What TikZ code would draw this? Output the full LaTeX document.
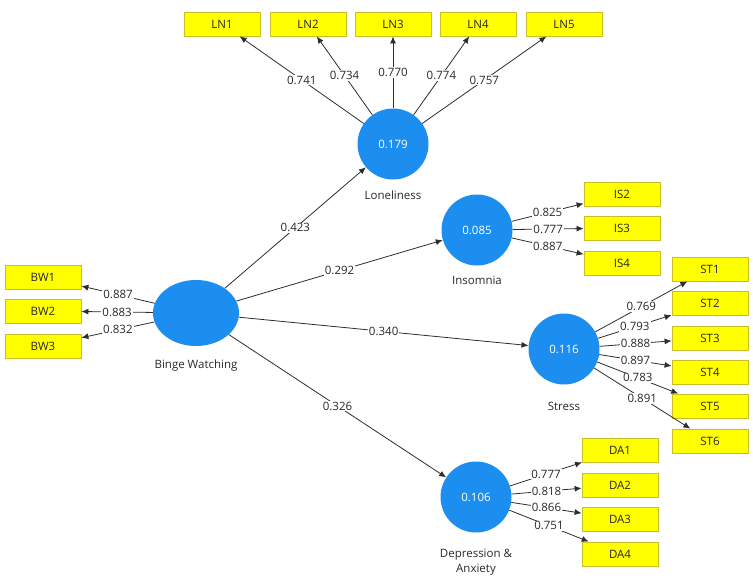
\documentclass[tikz,border=0pt]{standalone}
\usepackage{fontspec}
\setmainfont{Open Sans}
\usetikzlibrary{arrows.meta,shapes.geometric}
\definecolor{lvblue}{RGB}{28,142,240}
\definecolor{mvyellow}{RGB}{255,255,0}
\definecolor{mvborder}{RGB}{200,190,40}
\definecolor{edgegray}{RGB}{45,45,45}
\definecolor{textgray}{RGB}{40,40,40}
\tikzset{%
  lv/.style={draw=none,shape=circle,fill=lvblue,minimum size=71pt,inner sep=0,text=white,font=\fontsize{11.5}{13}\selectfont},
  lvname/.style={text=textgray,font=\fontsize{11.5}{15}\selectfont,align=center,label distance=8pt},
  mv/.style={draw=mvborder,line width=0.8pt,fill=mvyellow,minimum width=76pt,minimum height=24pt,inner sep=0,text=textgray,font=\fontsize{11.5}{13}\selectfont},
  ledge/.style={draw=edgegray,line width=0.8pt,-{Latex[length=7pt,width=6pt]}},
  coef/.style={fill=white,inner sep=1pt,text=textgray,font=\fontsize{11.5}{13}\selectfont}
}
\begin{document}
\begin{tikzpicture}[x=1pt,y=-1pt]
  \useasboundingbox (0,0) rectangle (753,582);
  % latent variables
  \path
    (196,313) node[lv,shape=ellipse,minimum width=86pt,minimum height=66pt] (BW)
      [label={[lvname,label distance=10pt]below:Binge Watching}]{}
    (393,144) node[lv] (LN)[label={[lvname]below:Loneliness}]{0.179}
    (477,230) node[lv] (IS)[label={[lvname,label distance=7pt]below:Insomnia}]{0.085}
    (564,349) node[lv] (ST)[label={[lvname,label distance=14pt]below:Stress}]{0.116}
    (476,497) node[lv] (DA)[label={[lvname,label distance=13pt]below:Depression \&\\Anxiety}]{0.106};
  % indicators
  \path
    (43,277) node[mv] (BW1){BW1}
    (43,311) node[mv] (BW2){BW2}
    (43,346) node[mv] (BW3){BW3}
    (222,24) node[mv] (LN1){LN1}
    (308,24) node[mv] (LN2){LN2}
    (393,24) node[mv] (LN3){LN3}
    (478,24) node[mv] (LN4){LN4}
    (564,24) node[mv] (LN5){LN5}
    (622,194) node[mv] (IS2){IS2}
    (622,228) node[mv] (IS3){IS3}
    (622,263) node[mv] (IS4){IS4}
    (710,269) node[mv] (ST1){ST1}
    (710,303) node[mv] (ST2){ST2}
    (710,338) node[mv] (ST3){ST3}
    (710,372) node[mv] (ST4){ST4}
    (710,406) node[mv] (ST5){ST5}
    (710,441) node[mv] (ST6){ST6}
    (620,450) node[mv] (DA1){DA1}
    (620,485) node[mv] (DA2){DA2}
    (620,519) node[mv] (DA3){DA3}
    (620,554) node[mv] (DA4){DA4};
  % structural paths
  \draw[ledge] (BW) -- node[coef]{0.423} (LN);
  \draw[ledge] (BW) -- node[coef]{0.292} (IS);
  \draw[ledge] (BW) -- node[coef]{0.340} (ST);
  \draw[ledge] (BW) -- node[coef]{0.326} (DA);
  % outer loadings
  \draw[ledge] (BW) -- node[coef]{0.887} (BW1);
  \draw[ledge] (BW) -- node[coef]{0.883} (BW2);
  \draw[ledge] (BW) -- node[coef]{0.832} (BW3);
  \draw[ledge] (LN) -- node[coef]{0.741} (LN1);
  \draw[ledge] (LN) -- node[coef]{0.734} (LN2);
  \draw[ledge] (LN) -- node[coef]{0.770} (LN3);
  \draw[ledge] (LN) -- node[coef]{0.774} (LN4);
  \draw[ledge] (LN) -- node[coef]{0.757} (LN5);
  \draw[ledge] (IS) -- node[coef]{0.825} (IS2);
  \draw[ledge] (IS) -- node[coef]{0.777} (IS3);
  \draw[ledge] (IS) -- node[coef]{0.887} (IS4);
  \draw[ledge] (ST) -- node[coef]{0.769} (ST1);
  \draw[ledge] (ST) -- node[coef]{0.793} (ST2);
  \draw[ledge] (ST) -- node[coef]{0.888} (ST3);
  \draw[ledge] (ST) -- node[coef]{0.897} (ST4);
  \draw[ledge] (ST) -- node[coef]{0.783} (ST5);
  \draw[ledge] (ST) -- node[coef]{0.891} (ST6);
  \draw[ledge] (DA) -- node[coef]{0.777} (DA1);
  \draw[ledge] (DA) -- node[coef]{0.818} (DA2);
  \draw[ledge] (DA) -- node[coef]{0.866} (DA3);
  \draw[ledge] (DA) -- node[coef]{0.751} (DA4);
\end{tikzpicture}
\end{document}
